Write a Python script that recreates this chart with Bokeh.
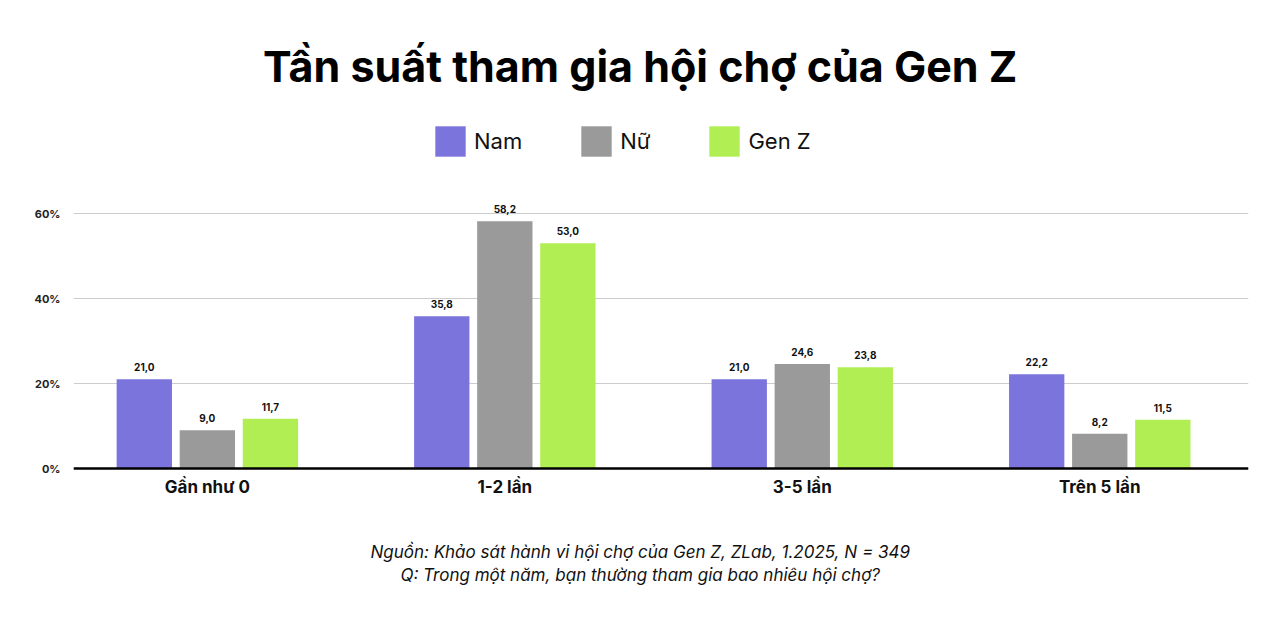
from bokeh.plotting import figure
from bokeh.models import (ColumnDataSource, FixedTicker, Legend, LegendItem, Label)
from bokeh.core.properties import value
from bokeh.embed import file_html
from bokeh.resources import INLINE

categories = ["Gần như 0", "1-2 lần", "3-5 lần", "Trên 5 lần"]
series_names = ["Nam", "Nữ", "Gen Z"]
nam = [21.0, 35.8, 21.0, 22.2]
nu = [9.0, 58.2, 24.6, 8.2]
genz = [11.7, 53.0, 23.8, 11.5]
y_ticks = [0, 20, 40, 60]
y_tick_labels = ["0%", "20%", "40%", "60%"]
colors = ["#7B74DC", "#9A9A9A", "#B0EE53"]
title_text = "Tần suất tham gia hội chợ của Gen Z"
source_text = "Nguồn: Khảo sát hành vi hội chợ của Gen Z, ZLab, 1.2025, N = 349"
question_text = "Q: Trong một năm, bạn thường tham gia bao nhiêu hội chợ?"

FONT = "Inter"
PX_PER_UNIT = 4.25      # vertical pixels per percentage point
ZERO_PX = 468           # canvas row of the 0% baseline
H = 626

p = figure(width=1282, height=H, output_backend="svg", toolbar_location=None,
           x_range=(-0.45, 3.5),
           y_range=(-(H - ZERO_PX) / PX_PER_UNIT, ZERO_PX / PX_PER_UNIT),
           min_border_left=73, min_border_right=34, min_border_top=0, min_border_bottom=0)
p.title.visible = False
p.outline_line_color = None
p.background_fill_color = "white"
p.border_fill_color = "white"

xs = list(range(len(categories)))
offsets = [-0.212, 0.0, 0.212]
bar_w = 0.186
renderers = []
for vals, off, col in zip([nam, nu, genz], offsets, colors):
    src = ColumnDataSource(dict(x=[i + off for i in xs], top=vals,
                                lab=[f"{v:.1f}".replace(".", ",") for v in vals]))
    r = p.vbar(x="x", top="top", width=bar_w, source=src, fill_color=col, line_color=None)
    renderers.append(r)
    p.text(x="x", y="top", text="lab", source=src, y_offset=-8,
           text_align="center", text_baseline="bottom",
           text_font=value(FONT), text_font_size="10px", text_font_style="bold",
           text_color="#111111")

# x axis drawn at the 0% line
p.xaxis.fixed_location = 0
p.xaxis.ticker = FixedTicker(ticks=xs)
p.xaxis.major_label_overrides = {i: c for i, c in zip(xs, categories)}
p.xaxis.major_label_text_font = FONT
p.xaxis.major_label_text_font_size = "17px"
p.xaxis.major_label_text_font_style = "bold"
p.xaxis.major_label_text_color = "#111111"
p.xaxis.axis_line_color = "black"
p.xaxis.axis_line_width = 2.5
p.xaxis.major_tick_line_color = None
p.xaxis.minor_tick_line_color = None
p.xaxis.major_label_standoff = 2

p.yaxis.ticker = FixedTicker(ticks=y_ticks)
p.yaxis.major_label_overrides = {t: l for t, l in zip(y_ticks, y_tick_labels)}
p.yaxis.major_label_text_font = FONT
p.yaxis.major_label_text_font_size = "11px"
p.yaxis.major_label_text_font_style = "bold"
p.yaxis.major_label_text_color = "#222222"
p.yaxis.axis_line_color = None
p.yaxis.major_tick_line_color = None
p.yaxis.minor_tick_line_color = None
p.yaxis.major_label_standoff = 7

p.xgrid.grid_line_color = None
p.ygrid.grid_line_color = "#CCCCCC"
p.ygrid.grid_line_width = 1

# legend
legend = Legend(items=[LegendItem(label=n, renderers=[r]) for n, r in zip(series_names, renderers)],
                orientation="horizontal", location=(358, H - 160),
                glyph_width=38, glyph_height=38, label_standoff=5, spacing=55,
                label_text_font=FONT, label_text_font_size="22px", label_text_color="#111111",
                border_line_color=None, background_fill_alpha=0, padding=0, margin=0)
p.add_layout(legend)

cx = 1.455
p.add_layout(Label(x=cx, y=(ZERO_PX - 65) / PX_PER_UNIT, text=title_text,
                   text_align="center", text_baseline="middle",
                   text_font=FONT, text_font_size="43px", text_font_style="bold",
                   text_color="black"))
p.add_layout(Label(x=cx, y=(ZERO_PX - 551) / PX_PER_UNIT, text=source_text,
                   text_align="center", text_baseline="middle",
                   text_font=FONT, text_font_size="17px", text_font_style="italic",
                   text_color="#111111"))
p.add_layout(Label(x=cx, y=(ZERO_PX - 574) / PX_PER_UNIT, text=question_text,
                   text_align="center", text_baseline="middle",
                   text_font=FONT, text_font_size="17px", text_font_style="italic",
                   text_color="#111111"))

open("out.html", "w").write(file_html(p, INLINE))
